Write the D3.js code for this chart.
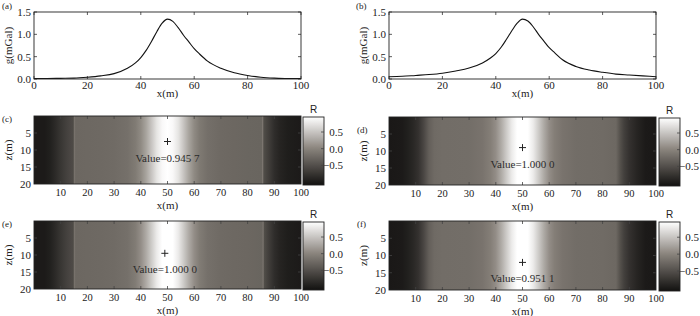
<!DOCTYPE html>
<html>
<head>
<meta charset="utf-8">
<script src="https://cdn.jsdelivr.net/npm/d3@7"></script>
<style>
  body { margin: 0; background: #fff; }
  svg { display: block; font-family: "Liberation Serif", "Times New Roman", serif; }
</style>
</head>
<body>
<svg id="chart" width="700" height="316"></svg>
<script>
// gravity profiles (a) and (b)
const profX = [0, 5, 10, 15, 20, 25, 30, 35, 38, 40, 42, 44, 46, 48, 50, 52, 54, 56, 58, 60, 62, 65, 70, 75, 80, 85, 90, 95, 100];
const gA = [0.01, 0.01, 0.015, 0.02, 0.04, 0.07, 0.12, 0.24, 0.36, 0.48, 0.64, 0.84, 1.06, 1.25, 1.34, 1.29, 1.15, 0.98, 0.83, 0.68, 0.56, 0.40, 0.24, 0.14, 0.08, 0.04, 0.02, 0.01, 0.01];
const gB = [0.05, 0.06, 0.08, 0.10, 0.13, 0.18, 0.245, 0.36, 0.47, 0.57, 0.71, 0.89, 1.08, 1.25, 1.34, 1.30, 1.17, 1.00, 0.85, 0.70, 0.59, 0.43, 0.28, 0.20, 0.15, 0.11, 0.09, 0.07, 0.05];

// correlation sections (c)-(f): R value per x column
const cX = [0, 4, 6, 8, 10, 12, 14, 14.7, 15.1, 15.6, 20, 25, 30, 35, 38, 40, 42, 44, 46, 48, 50, 52, 54, 56, 58, 60, 62, 65, 70, 75, 80, 85.2, 85.6, 86.1, 88, 90, 92, 95, 100];
const cR = [-1.0, -1.0, -0.95, -0.85, -0.74, -0.64, -0.56, -0.54, -0.15, -0.27, -0.26, -0.25, -0.23, -0.18, -0.08, 0.05, 0.25, 0.5, 0.75, 0.9, 0.95, 0.9, 0.75, 0.5, 0.25, 0.05, -0.09, -0.19, -0.25, -0.27, -0.28, -0.29, -0.12, -0.52, -0.67, -0.82, -0.91, -0.97, -1.0];
const dX = [0, 5, 7, 9, 11, 13, 15, 17, 20, 30, 35, 38, 40, 42, 44, 46, 48, 50, 52, 54, 56, 58, 60, 62, 65, 70, 80, 85, 86.5, 88, 90, 93, 96, 100];
const dR = [-1.02, -1.0, -0.95, -0.88, -0.78, -0.58, -0.34, -0.24, -0.21, -0.2, -0.15, -0.05, 0.08, 0.3, 0.55, 0.8, 0.97, 1.0, 0.97, 0.8, 0.55, 0.3, 0.08, -0.05, -0.15, -0.21, -0.23, -0.26, -0.47, -0.64, -0.78, -0.91, -1.0, -1.02];
const eX = [0, 4, 6, 8, 10, 12, 14, 14.7, 15.1, 15.6, 20, 25, 30, 35, 38, 40, 42, 44, 46, 48, 50, 52, 54, 56, 58, 60, 62, 65, 70, 75, 80, 85.4, 85.8, 86.3, 88, 90, 92, 95, 100];
const eR = [-1.0, -1.0, -0.95, -0.85, -0.74, -0.64, -0.56, -0.54, -0.15, -0.27, -0.26, -0.25, -0.23, -0.18, -0.07, 0.08, 0.3, 0.55, 0.8, 0.96, 1.0, 0.96, 0.8, 0.55, 0.3, 0.08, -0.07, -0.18, -0.24, -0.26, -0.27, -0.29, -0.12, -0.52, -0.67, -0.82, -0.91, -0.97, -1.0];
const fX = [0, 5, 7, 9, 11, 13, 15, 17, 20, 30, 35, 38, 40, 42, 44, 46, 48, 50, 52, 54, 56, 58, 60, 62, 65, 70, 80, 85, 86.5, 88, 90, 93, 96, 100];
const fR = [-1.02, -1.0, -0.95, -0.88, -0.78, -0.58, -0.34, -0.24, -0.21, -0.2, -0.15, -0.05, 0.08, 0.3, 0.55, 0.8, 0.95, 0.98, 0.95, 0.8, 0.55, 0.3, 0.08, -0.05, -0.15, -0.21, -0.23, -0.26, -0.47, -0.64, -0.78, -0.91, -1.0, -1.02];

// position of the maximum and its label
const peakX = [50, 50, 49, 50];
const peakZ = [7.5, 9, 9.5, 12];
const peakText = ["Value=0.945 7", "Value=1.000 0", "Value=1.000 0", "Value=0.951 1"];

const lineXTicks = [0, 20, 40, 60, 80, 100];
const lineYTicks = [0, 0.5, 1.0, 1.5];
const heatXTicks = [10, 20, 30, 40, 50, 60, 70, 80, 90, 100];
const heatZTicks = [5, 10, 15, 20];
const cbTicks = [-0.5, 0, 0.5];
const rDomain = [-1.09, 0.95];

const svg = d3.select("#chart");
const defs = svg.append("defs");
const fmt1 = d3.format(".1f");

const color = d3.scaleLinear()
  .domain([rDomain[0], 0, rDomain[1]])
  .range(["#121110", "#89837c", "#ffffff"]);

function tickLines(g, scale, ticks, orient, len, other) {
  // inward ticks, MATLAB style
  ticks.forEach(t => {
    const p = scale(t);
    if (orient === "x")
      g.append("line").attr("x1", p).attr("x2", p).attr("y1", other).attr("y2", other - len);
    else
      g.append("line").attr("y1", p).attr("y2", p).attr("x1", other).attr("x2", other + len);
  });
}

function linePanel(cfg) {
  const { left, top, w, h, vals, label } = cfg;
  const g = svg.append("g").attr("transform", `translate(${left},${top})`);
  const x = d3.scaleLinear().domain([0, 100]).range([0, w]);
  const y = d3.scaleLinear().domain([0, 1.5]).range([h, 0]);

  const tk = g.append("g").attr("stroke", "#333").attr("stroke-width", 0.8);
  tickLines(tk, x, lineXTicks, "x", 3, h);
  tickLines(tk, x, lineXTicks, "x", -3, 0);
  tickLines(tk, y, lineYTicks, "y", 3, 0);
  tickLines(tk, y, lineYTicks, "y", -3, w);

  const line = d3.line()
    .x((d, i) => x(profX[i]))
    .y(d => y(d))
    .curve(d3.curveMonotoneX);
  g.append("path").datum(vals)
    .attr("d", line)
    .attr("fill", "none")
    .attr("stroke", "#111")
    .attr("stroke-width", 1.1);

  g.append("rect").attr("width", w).attr("height", h)
    .attr("fill", "none").attr("stroke", "#222").attr("stroke-width", 0.9);

  g.selectAll(".xl").data(lineXTicks).join("text")
    .attr("x", d => x(d)).attr("y", h + 10)
    .attr("text-anchor", "middle").attr("font-size", 11).attr("fill", "#222")
    .text(d => d);
  g.selectAll(".yl").data(lineYTicks).join("text")
    .attr("x", -3).attr("y", d => y(d)).attr("dy", "0.35em")
    .attr("text-anchor", "end").attr("font-size", 11).attr("fill", "#222")
    .text(d => fmt1(d));
  g.append("text").attr("x", w / 2).attr("y", h + 18)
    .attr("text-anchor", "middle").attr("font-size", 11).attr("fill", "#222")
    .text("x(m)");
  g.append("text")
    .attr("transform", `translate(${cfg.ylabX - left},${h / 2}) rotate(-90)`)
    .attr("text-anchor", "middle").attr("font-size", 11).attr("fill", "#222")
    .text("g(mGal)");
  svg.append("text").attr("x", cfg.labX).attr("y", cfg.labY)
    .attr("font-size", 9).attr("fill", "#222").text(label);
}

function heatPanel(cfg, idx) {
  const { left, top, w, h, xs, rs, label, cbLeft } = cfg;
  const g = svg.append("g").attr("transform", `translate(${left},${top})`);
  const x = d3.scaleLinear().domain([0, 100]).range([0, w]);
  const z = d3.scaleLinear().domain([0, 20]).range([0, h]);

  const grad = defs.append("linearGradient").attr("id", "heat" + idx)
    .attr("x1", 0).attr("x2", 1).attr("y1", 0).attr("y2", 0);
  grad.selectAll("stop").data(xs).join("stop")
    .attr("offset", d => x(d) / w)
    .attr("stop-color", (d, i) => color(rs[i]));
  g.append("rect").attr("width", w).attr("height", h).attr("fill", `url(#heat${idx})`);

  const tk = g.append("g").attr("stroke", "#444").attr("stroke-width", 0.8);
  tickLines(tk, x, heatXTicks.slice(0, -1), "x", 3, h);
  tickLines(tk, x, heatXTicks.slice(0, -1), "x", -3, 0);
  tickLines(tk, z, heatZTicks.slice(0, -1), "y", 3, 0);
  tickLines(tk, z, heatZTicks.slice(0, -1), "y", -3, w);

  g.append("rect").attr("width", w).attr("height", h)
    .attr("fill", "none").attr("stroke", "#222").attr("stroke-width", 0.9);

  // maximum marker
  const px = x(peakX[idx]), pz = z(peakZ[idx]);
  g.append("path")
    .attr("d", `M${px - 3.5},${pz}H${px + 3.5}M${px},${pz - 3.5}V${pz + 3.5}`)
    .attr("stroke", "#222").attr("stroke-width", 1);
  g.append("text").attr("x", px).attr("y", pz + 20)
    .attr("text-anchor", "middle").attr("font-size", 11).attr("fill", "#2b2b2b")
    .text(peakText[idx]);

  g.selectAll(".xl").data(heatXTicks).join("text")
    .attr("x", d => x(d)).attr("y", h + 12)
    .attr("text-anchor", "middle").attr("font-size", 10.5).attr("fill", "#222")
    .text(d => d);
  g.selectAll(".yl").data(heatZTicks).join("text")
    .attr("x", -3).attr("y", d => z(d)).attr("dy", "0.35em")
    .attr("text-anchor", "end").attr("font-size", 11).attr("fill", "#222")
    .text(d => d);
  g.append("text").attr("x", w / 2).attr("y", h + 24.5)
    .attr("text-anchor", "middle").attr("font-size", 11).attr("fill", "#222")
    .text("x(m)");
  g.append("text")
    .attr("transform", `translate(${cfg.ylabX - left},${h / 2}) rotate(-90)`)
    .attr("text-anchor", "middle").attr("font-size", 11).attr("fill", "#222")
    .text("z(m)");
  svg.append("text").attr("x", cfg.labX).attr("y", cfg.labY)
    .attr("font-size", 9).attr("fill", "#222").text(label);

  // colorbar
  const cbW = 21;
  const cb = svg.append("g").attr("transform", `translate(${cbLeft},${top + 1})`);
  const cy = d3.scaleLinear().domain(rDomain).range([h, 0]);
  const cg = defs.append("linearGradient").attr("id", "cb" + idx)
    .attr("x1", 0).attr("x2", 0).attr("y1", 1).attr("y2", 0);
  const stops = d3.range(0, 21).map(i => rDomain[0] + (rDomain[1] - rDomain[0]) * i / 20);
  cg.selectAll("stop").data(stops).join("stop")
    .attr("offset", d => (h - cy(d)) / h)
    .attr("stop-color", d => color(d));
  cb.append("rect").attr("width", cbW).attr("height", h).attr("fill", `url(#cb${idx})`)
    .attr("stroke", "#222").attr("stroke-width", 0.9);
  const ct = cb.append("g").attr("stroke", "#444").attr("stroke-width", 0.8);
  tickLines(ct, cy, cbTicks, "y", -3, cbW);
  cb.selectAll(".cl").data(cbTicks).join("text")
    .attr("x", cbW + 19).attr("y", d => cy(d)).attr("dy", "0.35em")
    .attr("text-anchor", "end").attr("font-size", 11).attr("fill", "#222")
    .text(d => fmt1(d));
  cb.append("text").attr("x", cbW / 2).attr("y", -4)
    .attr("text-anchor", "middle").attr("font-family", "Liberation Sans, Arial, sans-serif")
    .attr("font-size", 10).attr("fill", "#222").text("R");
}

linePanel({ left: 34, top: 12, w: 267, h: 67, vals: gA, label: "(a)", labX: 2, labY: 9, ylabX: 12 });
linePanel({ left: 389, top: 12, w: 267, h: 67, vals: gB, label: "(b)", labX: 356, labY: 9, ylabX: 367 });

heatPanel({ left: 34, top: 116, w: 267, h: 68, xs: cX, rs: cR, label: "(c)", labX: 2, labY: 122, cbLeft: 303, ylabX: 12 }, 0);
heatPanel({ left: 389, top: 117, w: 267, h: 68, xs: dX, rs: dR, label: "(d)", labX: 357, labY: 133, cbLeft: 659, ylabX: 367 }, 1);
heatPanel({ left: 34, top: 221, w: 267, h: 68, xs: eX, rs: eR, label: "(e)", labX: 2, labY: 227, cbLeft: 303, ylabX: 12 }, 2);
heatPanel({ left: 389, top: 221, w: 267, h: 69, xs: fX, rs: fR, label: "(f)", labX: 357, labY: 227, cbLeft: 659, ylabX: 367 }, 3);
</script>
</body>
</html>
